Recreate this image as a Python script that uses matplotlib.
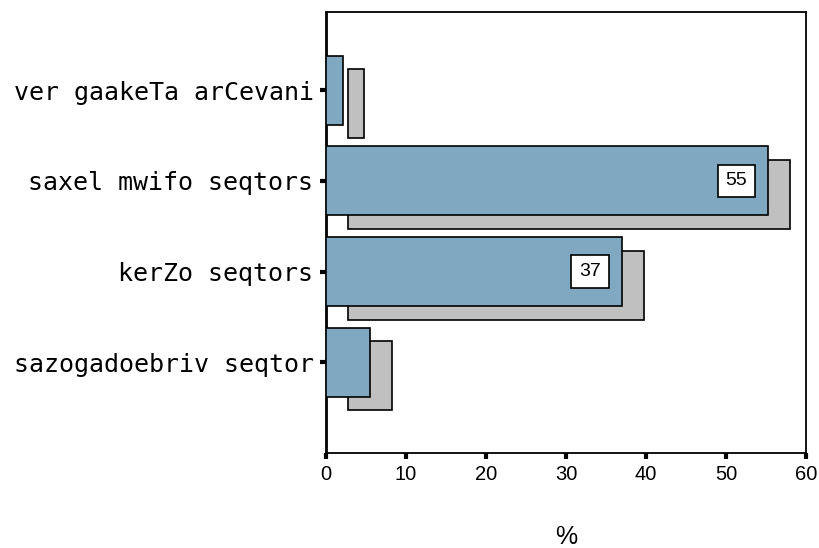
import matplotlib
matplotlib.use("Agg")
import matplotlib.pyplot as plt

# data (top to bottom)
categories = ["ver gaakeTa arCevani", "saxel mwifo seqtors", "kerZo seqtors", "sazogadoebriv seqtor"]
values = [2.1, 55.3, 37.0, 5.5]
labelled = [False, True, True, False]
x_ticks = [0, 10, 20, 30, 40, 50, 60]

blue = "#80a8c1"
shadow = "#c0c0c0"

fig = plt.figure(figsize=(8.19, 5.48), dpi=100)
ax = fig.add_axes([326 / 819, (548 - 453) / 548, 480 / 819, 441 / 548])

pos = list(range(len(categories)))
dx, dy = 2.7, 0.15

# shadow bars first, then the real bars on top
ax.barh([p + dy for p in pos], values, left=dx, height=0.76,
        color=shadow, edgecolor="black", linewidth=1.2, zorder=2)
ax.barh(pos, values, height=0.76, color=blue, edgecolor="black",
        linewidth=1.2, zorder=3)

for p, v, show in zip(pos, values, labelled):
    if show:
        ax.text(v - 4, p, f"{v:.0f}", ha="center", va="center", fontsize=14,
                family="Liberation Sans", zorder=4,
                bbox=dict(boxstyle="square,pad=0.4", facecolor="white",
                          edgecolor="black", linewidth=1.2))

ax.set_xlim(0, 60)
ax.set_ylim(4.0, -0.86)
ax.set_xticks(x_ticks)
ax.set_xticklabels([str(t) for t in x_ticks], family="Liberation Sans", fontsize=14.5)
ax.set_yticks(pos)
ax.set_yticklabels(categories, family="DejaVu Sans Mono", fontsize=18)
ax.tick_params(axis="both", direction="out", length=4, width=3, color="black", pad=5)
ax.set_xlabel("%", family="Liberation Sans", fontsize=18, va="center")
ax.xaxis.set_label_coords(0.5, (453 - 537) / 441)

for s in ax.spines.values():
    s.set_linewidth(1.3)
ax.spines["left"].set_linewidth(2)

fig.savefig("out.png", dpi=100)
